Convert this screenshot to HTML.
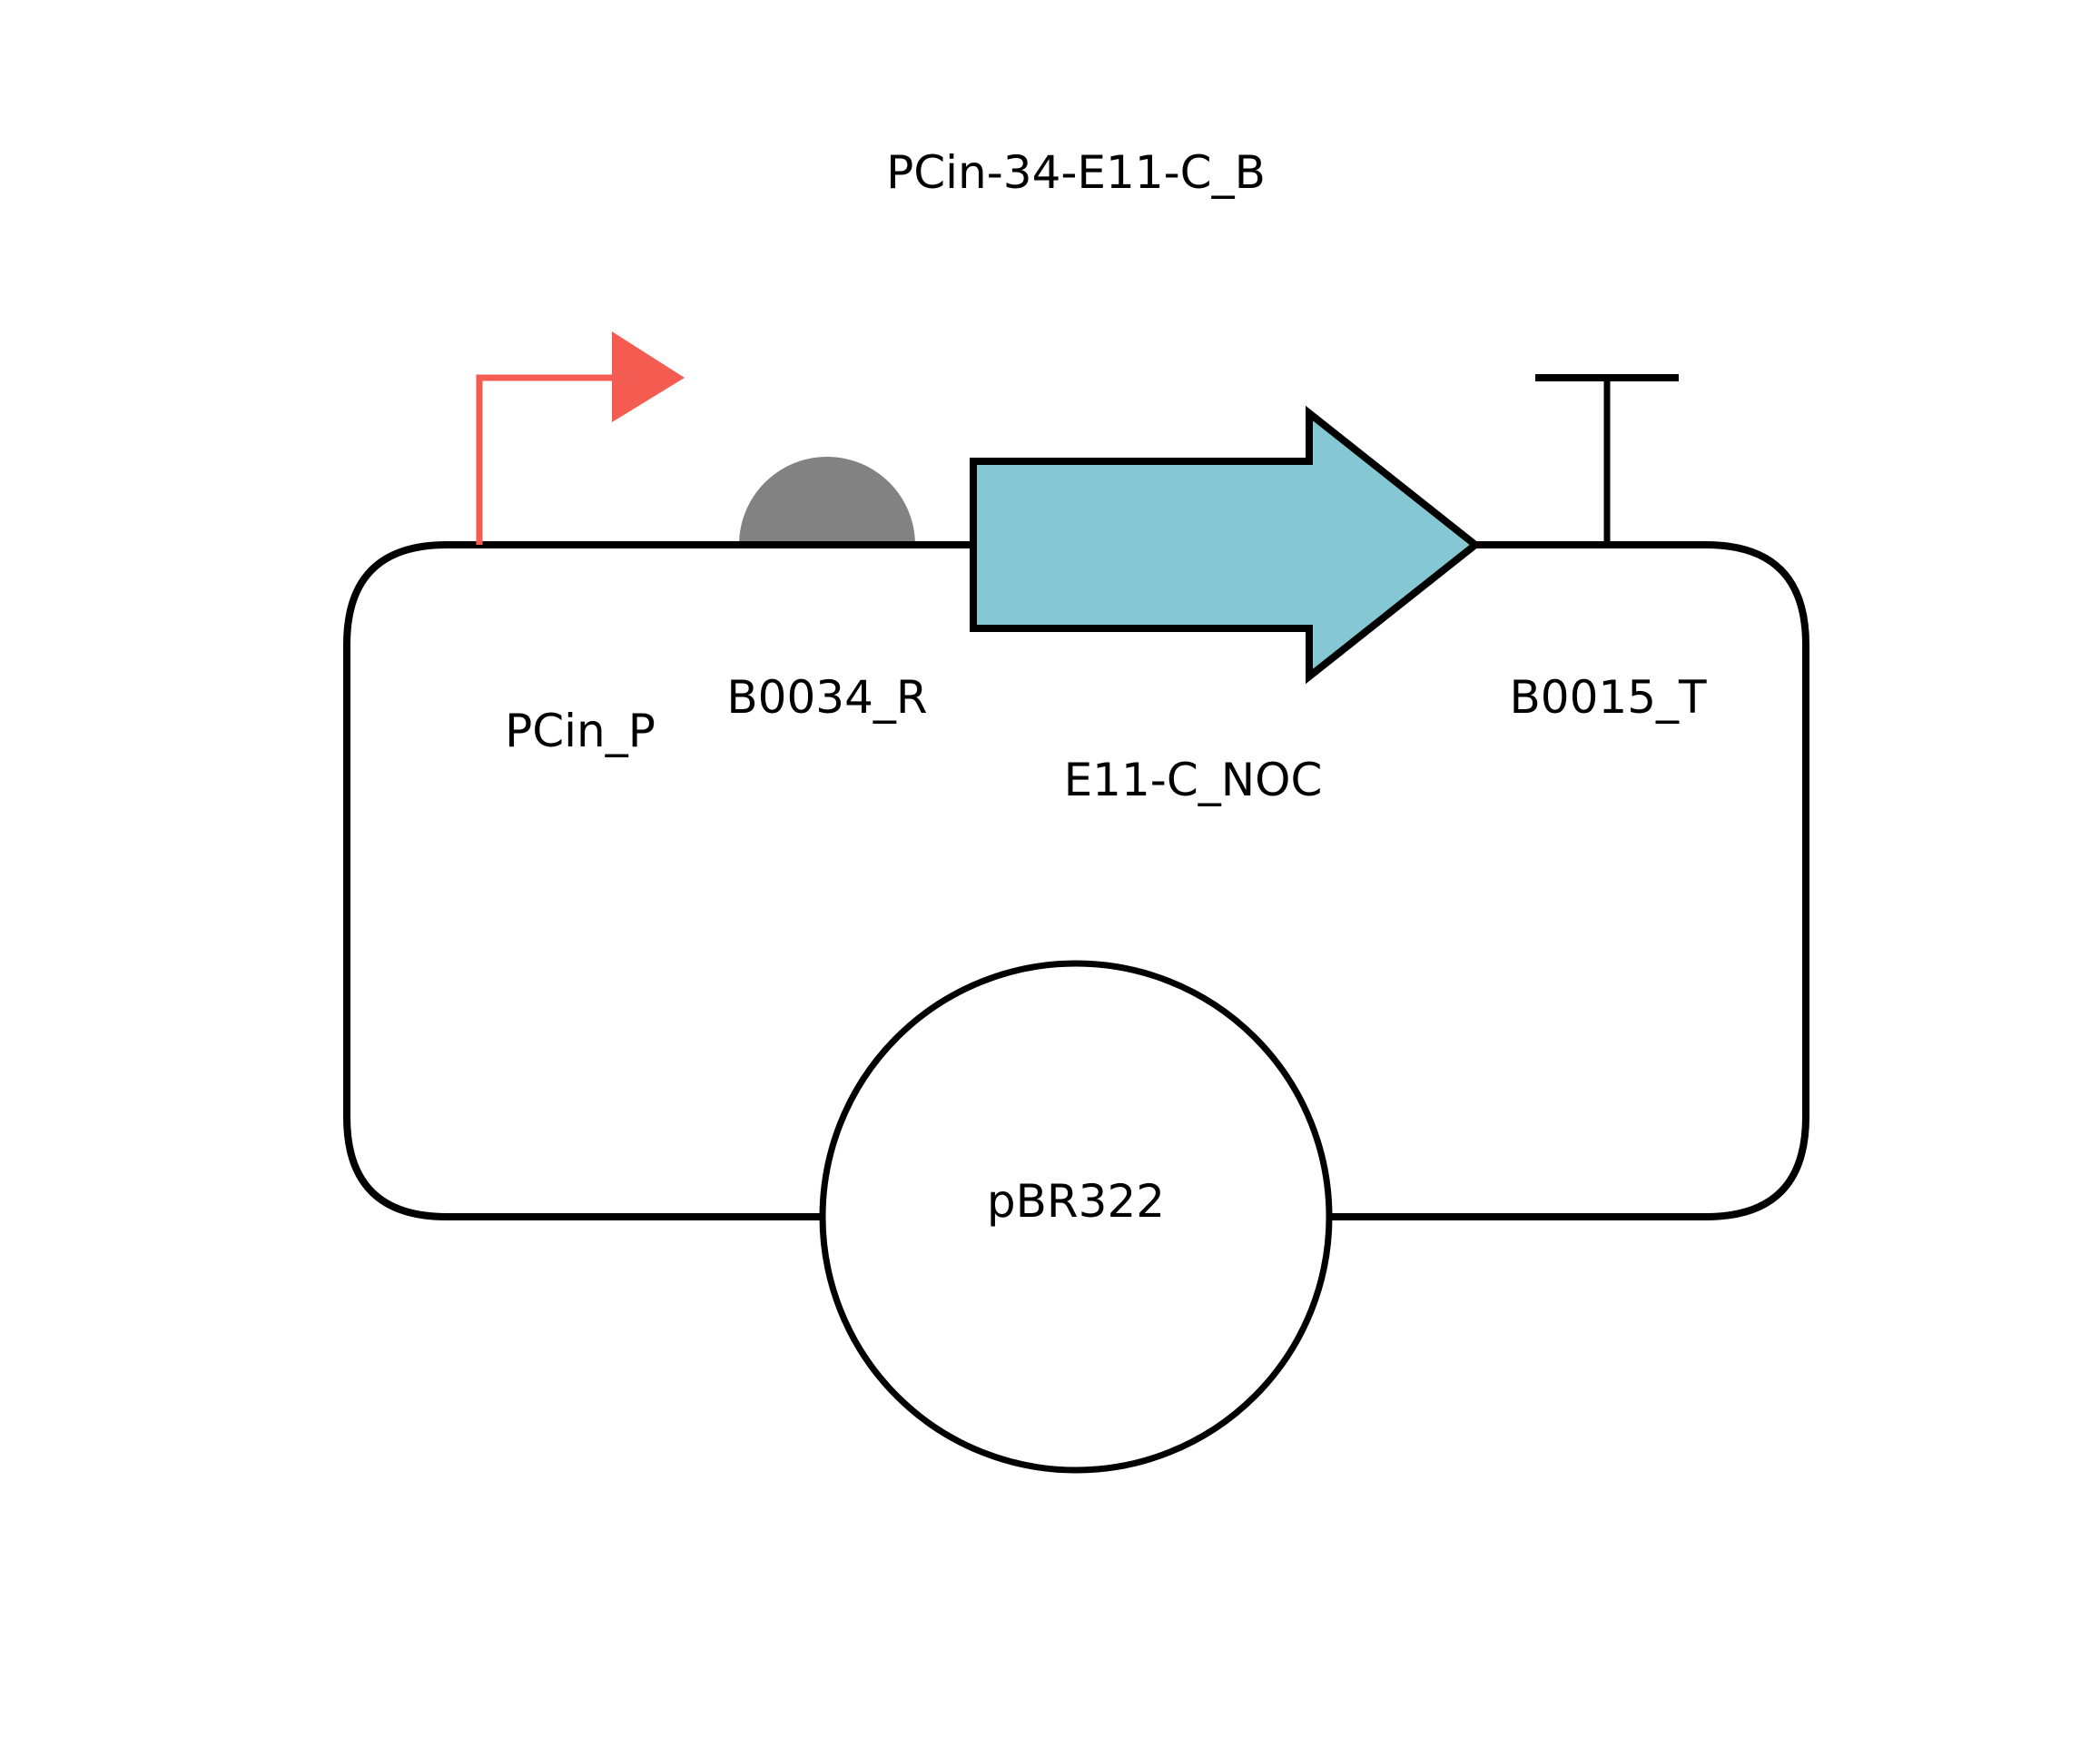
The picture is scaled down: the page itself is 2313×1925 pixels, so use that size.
<!DOCTYPE html>
<html><head><meta charset="utf-8"><style>
html,body{margin:0;padding:0;background:#fff}
text{font-family:"DejaVu Sans","Liberation Sans",sans-serif;font-size:50px;fill:#000}
</style></head><body>
<svg width="2313" height="1920" viewBox="0 0 2313 1920" xmlns="http://www.w3.org/2000/svg">
<rect width="2313" height="1920" fill="#fff"/>
<path d="M492 600 H1879 Q1989 600 1989 710 V1230 Q1989 1340 1879 1340 H492 Q382 1340 382 1230 V710 Q382 600 492 600 Z" fill="none" stroke="#000" stroke-width="8"/>
<circle cx="1185" cy="1340" r="279" fill="#fff" stroke="#000" stroke-width="7"/>
<polyline points="528,600 528,416 680,416" fill="none" stroke="#f45c51" stroke-width="7"/>
<polygon points="674,365 754,416 674,465" fill="#f45c51"/>
<path d="M814 600 A97 97 0 0 1 1008 600 Z" fill="#828282"/>
<line x1="780" y1="600" x2="1075" y2="600" stroke="#000" stroke-width="8"/>
<polygon points="1072,508 1442,508 1442,455 1625,600 1442,745 1442,692 1072,692" fill="#85c7d3" stroke="#000" stroke-width="8"/>
<line x1="1770" y1="600" x2="1770" y2="416" stroke="#000" stroke-width="7"/>
<line x1="1691" y1="416" x2="1849" y2="416" stroke="#000" stroke-width="8"/>
<text x="1185" y="207" text-anchor="middle">PCin-34-E11-C_B</text>
<text x="639" y="822" text-anchor="middle">PCin_P</text>
<text x="911" y="785" text-anchor="middle">B0034_R</text>
<text x="1314" y="876" text-anchor="middle">E11-C_NOC</text>
<text x="1771" y="785" text-anchor="middle">B0015_T</text>
<text x="1185" y="1340" text-anchor="middle">pBR322</text>
</svg>
</body></html>
